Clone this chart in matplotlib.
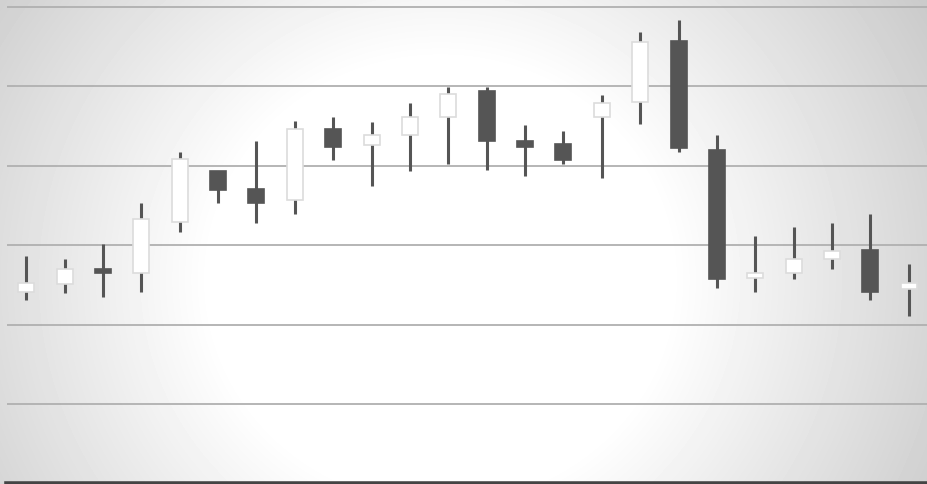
import numpy as np
import matplotlib
matplotlib.use("Agg")
import matplotlib.pyplot as plt

# candle values (gridline step = 10)
opens  = [24.2, 25.1, 27.1, 26.5, 33.0, 39.4, 37.1, 35.7, 44.6, 42.7, 43.9, 46.2,
          49.4, 43.1, 42.8, 46.2, 48.0, 55.7, 42.0, 25.9, 26.6, 28.3, 29.4, 24.5]
closes = [25.3, 27.0, 26.5, 33.3, 40.9, 37.0, 35.4, 44.6, 42.4, 43.9, 46.2, 49.0,
          43.2, 42.4, 40.8, 47.9, 55.6, 42.3, 25.8, 26.6, 28.3, 29.3, 24.2, 25.3]
highs  = [28.7, 28.3, 30.2, 35.4, 41.7, 39.4, 43.2, 45.6, 46.2, 45.5, 47.9, 49.9,
          49.9, 45.1, 44.4, 48.9, 56.9, 58.3, 43.9, 31.2, 32.3, 32.8, 34.0, 27.7]
lows   = [23.1, 24.0, 23.5, 24.1, 31.7, 35.4, 32.8, 34.0, 40.7, 37.5, 39.4, 40.2,
          39.5, 38.8, 40.2, 38.5, 45.3, 41.8, 24.7, 24.2, 25.8, 27.0, 23.2, 21.1]
grid_levels = [10, 20, 30, 40, 50, 60]

W, H = 928, 485
fig = plt.figure(figsize=(W / 100, H / 100), dpi=100)

# radial grey background
bg = fig.add_axes([0, 0, 1, 1], zorder=-1)
yy, xx = np.mgrid[0:H, 0:W]
r = np.hypot(xx - 440, (yy - 280) * 1.05)
shade = 1 - (58 / 255) * np.clip((r - 230) / 370, 0, 1)
bg.imshow(shade, cmap="gray", vmin=0, vmax=1, aspect="auto", interpolation="bilinear")
bg.axis("off")

ax = fig.add_axes([7 / W, 0, 1 - 7 / W, 1])
ax.set_facecolor("none")
x = np.arange(len(opens))
ax.set_xlim(-0.5, len(opens) - 0.5)
ax.set_ylim(0, 61.0)

for lvl in grid_levels:
    ax.axhline(lvl, color="#b0b0b0", lw=1.3, zorder=1)
ax.axhline(0, color="#444444", lw=4, zorder=2, clip_on=False)

ax.vlines(x, lows, highs, color="#555555", lw=2.2, zorder=3)
for i in x:
    o, c = opens[i], closes[i]
    up = c >= o
    ax.bar(i, abs(c - o), bottom=min(o, c), width=0.42,
           color="white" if up else "#555555",
           edgecolor="#dcdcdc" if up else "#555555",
           linewidth=1.2, zorder=4)

ax.set_xticks([])
ax.set_yticks([])
for s in ax.spines.values():
    s.set_visible(False)

fig.savefig("out.png", dpi=100)
